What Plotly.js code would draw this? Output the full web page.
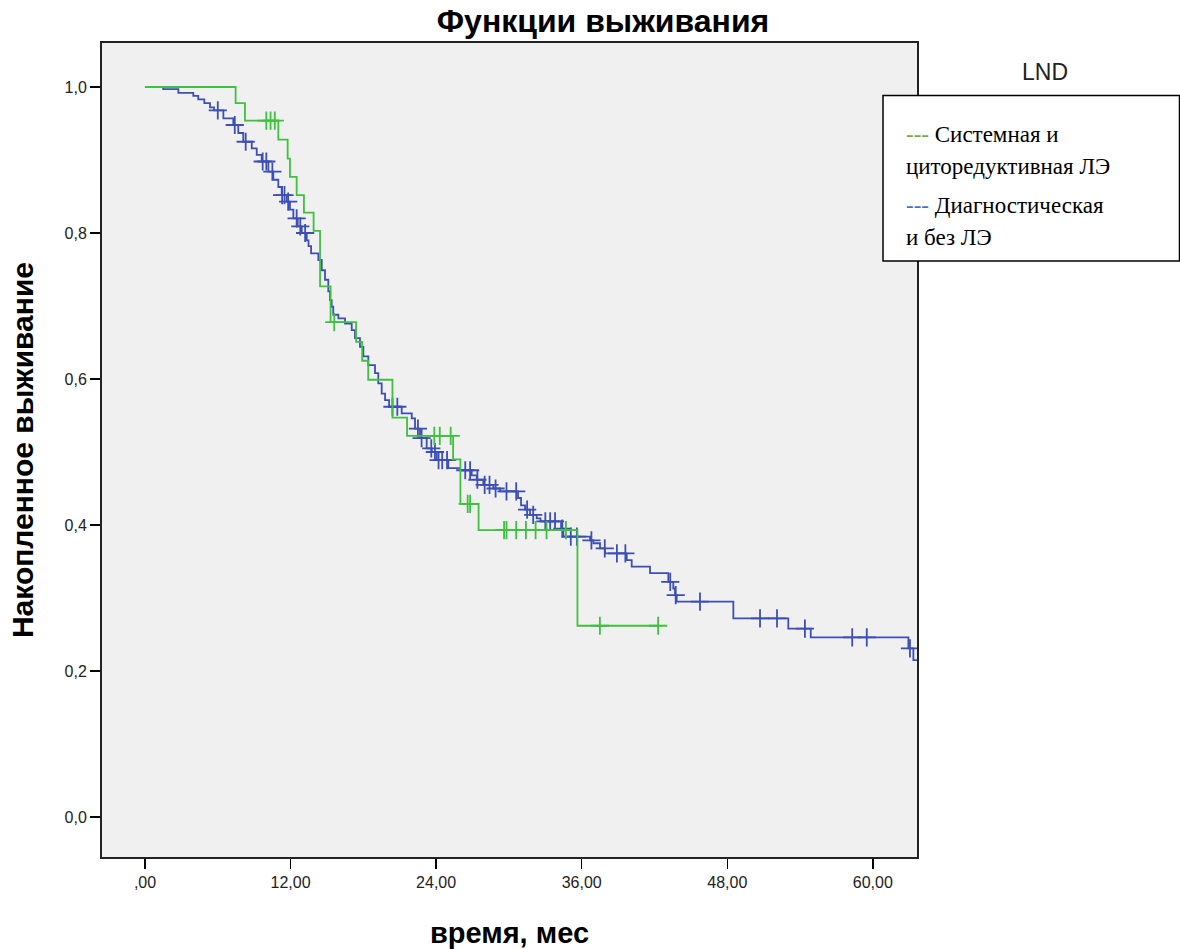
<!DOCTYPE html>
<html>
<head>
<meta charset="utf-8">
<script src="https://cdn.plot.ly/plotly-3.0.1.min.js"></script>
<style>html,body{margin:0;padding:0;background:#fff;}#chart{width:1180px;height:949px;}</style>
</head>
<body>
<div id="chart"></div>
<script>
// ---- Data ----
const seriesNames = ["Системная и циторедуктивная ЛЭ", "Диагностическая и без ЛЭ"];
const legendLines = [["Системная и", "циторедуктивная ЛЭ"], ["Диагностическая", "и без ЛЭ"]];

// Group 1: Системная и циторедуктивная ЛЭ (step curve: time of change, survival from then on)
const greenTime = [0, 7.47, 8.24, 10.99, 11.76, 11.95, 12.5, 13.1, 13.9, 14.43, 15.3, 17.4, 17.9, 18.4, 20.4, 21.6, 25.4, 26.0, 27.5, 35.65, 42.3];
const greenSurv = [1, 0.978, 0.954, 0.928, 0.902, 0.877, 0.852, 0.828, 0.803, 0.727, 0.678, 0.651, 0.625, 0.599, 0.547, 0.522, 0.490, 0.429, 0.393, 0.262, 0.262];
const greenCensor = [10.0, 10.35, 10.7, 15.6, 23.85, 24.3, 25.2, 26.6, 26.8, 29.6, 29.8, 30.6, 31.4, 32.2, 33.1, 34.7, 37.5, 42.3];

// Group 2: Диагностическая и без ЛЭ
const blueTime = [0, 1.5, 2.75, 3.98, 4.39, 4.89, 5.36, 5.69, 6.46, 7.28, 7.69, 8.10, 8.80, 9.21, 9.62, 10.17, 10.58, 10.99, 11.27, 11.68, 11.95, 12.23, 12.59, 12.92, 13.33, 13.48, 13.69, 14.29, 14.57, 14.84, 15.11, 15.25, 15.39, 15.52, 15.94, 16.49, 17.04, 17.31, 17.72, 18.0, 18.41, 18.96, 19.23, 19.51, 19.79, 20.12, 21.16, 21.99, 22.26, 22.67, 23.22, 23.64, 24.05, 25.0, 25.97, 26.93, 27.35, 27.89, 28.71, 29.27, 30.75, 31.0, 31.33, 31.74, 32.29, 32.6, 34.3, 34.49, 36.69, 36.96, 37.51, 37.92, 39.71, 40.12, 41.63, 43.14, 43.55, 43.69, 43.83, 48.5, 53.03, 54.88, 62.93, 63.34, 63.7];
const blueSurv = [1, 0.997, 0.992, 0.988, 0.983, 0.978, 0.972, 0.968, 0.957, 0.948, 0.937, 0.925, 0.916, 0.907, 0.898, 0.884, 0.873, 0.863, 0.852, 0.843, 0.832, 0.820, 0.809, 0.800, 0.790, 0.782, 0.772, 0.763, 0.749, 0.736, 0.720, 0.708, 0.699, 0.688, 0.683, 0.676, 0.667, 0.656, 0.644, 0.631, 0.619, 0.608, 0.594, 0.580, 0.571, 0.562, 0.553, 0.546, 0.532, 0.519, 0.505, 0.500, 0.489, 0.478, 0.475, 0.468, 0.462, 0.455, 0.450, 0.446, 0.437, 0.427, 0.421, 0.414, 0.409, 0.405, 0.395, 0.384, 0.379, 0.375, 0.368, 0.361, 0.352, 0.343, 0.334, 0.322, 0.313, 0.304, 0.295, 0.272, 0.258, 0.246, 0.231, 0.215, 0.215];
const blueCensor = [6.0, 7.4, 8.3, 9.7, 10.0, 10.5, 11.3, 11.5, 11.8, 12.5, 12.8, 13.2, 20.4, 20.8, 22.5, 22.8, 23.6, 23.9, 24.2, 24.5, 24.9, 26.4, 26.8, 27.4, 28.0, 28.4, 28.9, 29.8, 30.6, 31.5, 32.0, 33.0, 33.4, 33.8, 34.4, 35.1, 35.6, 36.8, 37.9, 38.9, 39.6, 43.3, 43.75, 45.75, 50.7, 52.1, 54.4, 58.3, 59.5, 63.06];

// Axis ticks
const xTickVals = [0, 12, 24, 36, 48, 60];
const xTickText = [",00", "12,00", "24,00", "36,00", "48,00", "60,00"];
const yTickVals = [0, 0.2, 0.4, 0.6, 0.8, 1.0];
const yTickText = ["0,0", "0,2", "0,4", "0,6", "0,8", "1,0"];

// ---- Styles ----
const greenLine = "#3ec13e";
const blueLine = "#3d4fb6";
const greenDash = "#70AD47";
const blueDash = "#4472C4";

function stepValue(times, surv, t) {
  let v = surv[0];
  for (let i = 0; i < times.length; i++) { if (times[i] <= t) v = surv[i]; }
  return v;
}

const traces = [
  {x: blueTime, y: blueSurv, mode: "lines", line: {shape: "hv", color: blueLine, width: 1.8}, name: seriesNames[1], showlegend: false, hoverinfo: "x+y"},
  {x: blueCensor, y: blueCensor.map(t => stepValue(blueTime, blueSurv, t)), mode: "markers", name: seriesNames[1] + " (цензурированные)", showlegend: false,
   marker: {symbol: "cross-thin", size: 13, color: blueLine, line: {width: 1.8, color: blueLine}}},
  {x: greenTime, y: greenSurv, mode: "lines", line: {shape: "hv", color: greenLine, width: 1.8}, name: seriesNames[0], showlegend: false, hoverinfo: "x+y"},
  {x: greenCensor, y: greenCensor.map(t => stepValue(greenTime, greenSurv, t)), mode: "markers", name: seriesNames[0] + " (цензурированные)", showlegend: false,
   marker: {symbol: "cross-thin", size: 13, color: greenLine, line: {width: 1.8, color: greenLine}}}
];

// pixel helpers for layout decorations (plot area 102..917 x 43..857)
const PL = 102, PR = 917, PT = 43, PB = 857;
const px = v => (v - PL) / (PR - PL);
const py = v => (PB - v) / (PB - PT);

const legendFont = {family: "Liberation Serif, Times New Roman, serif", size: 23, color: "#000"};
const annotations = [
  {text: "LND", x: px(1045), y: py(72), xref: "paper", yref: "paper", xanchor: "center", yanchor: "middle", showarrow: false,
   font: {family: "Liberation Sans, Arial, sans-serif", size: 23, color: "#222"}},
  {text: '<span style="color:' + greenDash + '">---</span> ' + legendLines[0][0], x: px(904), y: py(134), xref: "paper", yref: "paper", xanchor: "left", yanchor: "middle", showarrow: false, font: legendFont},
  {text: legendLines[0][1], x: px(904), y: py(166), xref: "paper", yref: "paper", xanchor: "left", yanchor: "middle", showarrow: false, font: legendFont},
  {text: '<span style="color:' + blueDash + '">---</span> ' + legendLines[1][0], x: px(904), y: py(205), xref: "paper", yref: "paper", xanchor: "left", yanchor: "middle", showarrow: false, font: legendFont},
  {text: legendLines[1][1], x: px(904), y: py(238), xref: "paper", yref: "paper", xanchor: "left", yanchor: "middle", showarrow: false, font: legendFont}
];

const layout = {
  width: 1180, height: 949,
  margin: {l: PL, r: 1180 - PR, t: PT, b: 949 - PB, pad: 0},
  paper_bgcolor: "#ffffff",
  plot_bgcolor: "#f0f0f0",
  showlegend: false,
  title: {text: "<b>Функции выживания</b>", x: 603 / 1180, xref: "container", xanchor: "center", y: 1 - 21 / 949, yref: "container", yanchor: "middle",
          font: {family: "Liberation Sans, Arial, sans-serif", size: 32, color: "#000"}},
  xaxis: {
    range: [-3.545, 63.64], tickvals: xTickVals, ticktext: xTickText,
    ticks: "outside", ticklen: 10, tickwidth: 1.5, tickcolor: "#000",
    showline: true, linecolor: "#222", linewidth: 2, mirror: true,
    showgrid: false, zeroline: false, automargin: false,
    tickfont: {family: "Liberation Sans, Arial, sans-serif", size: 16, color: "#222"},
    title: {text: "<b>время, мес</b>", standoff: 34, font: {family: "Liberation Sans, Arial, sans-serif", size: 29, color: "#000"}}
  },
  yaxis: {
    range: [-0.0548, 1.0603], tickvals: yTickVals, ticktext: yTickText,
    ticks: "outside", ticklen: 10, tickwidth: 1.5, tickcolor: "#000",
    showline: true, linecolor: "#222", linewidth: 2, mirror: true,
    showgrid: false, zeroline: false, automargin: false,
    tickfont: {family: "Liberation Sans, Arial, sans-serif", size: 16, color: "#222"},
    title: {text: "<b>Накопленное выживание</b>", standoff: 22, font: {family: "Liberation Sans, Arial, sans-serif", size: 30, color: "#000"}}
  },
  shapes: [
    {type: "rect", xref: "paper", yref: "paper", x0: px(883), x1: px(1179.5), y0: py(261), y1: py(95.5), layer: "above",
     line: {color: "#000", width: 1.5}, fillcolor: "#ffffff"}
  ],
  annotations: annotations
};

Plotly.newPlot("chart", traces, layout, {displayModeBar: false, staticPlot: true});
</script>
</body>
</html>
